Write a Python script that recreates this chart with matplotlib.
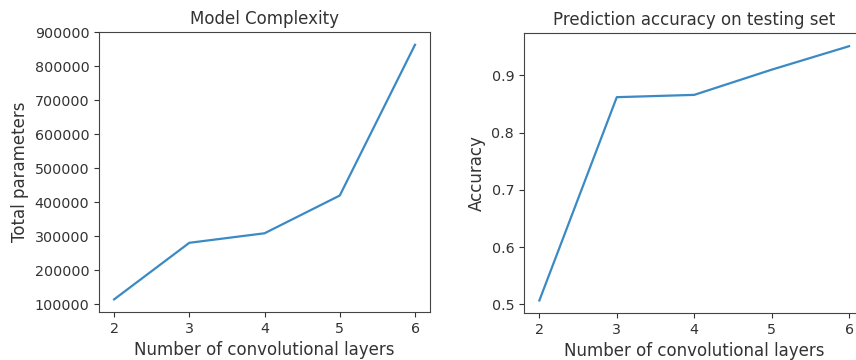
import numpy as np
import matplotlib
matplotlib.use("Agg")
import matplotlib.pyplot as plt

layers = [2, 3, 4, 5, 6]
total_params = [114700, 281000, 309000, 420000, 863000]
accuracy = [0.507, 0.862, 0.866, 0.910, 0.951]

plt.rcParams['text.color'] = '#333333'
plt.rcParams['axes.labelcolor'] = '#333333'
plt.rcParams['xtick.color'] = '#333333'
plt.rcParams['ytick.color'] = '#333333'
plt.rcParams['axes.edgecolor'] = '#444444'

line_color = '#3b8ac4'

fig = plt.figure(figsize=(8.56, 3.6), dpi=100)
ax1 = fig.add_axes([0.1157, 0.133, 0.3867, 0.778])
ax2 = fig.add_axes([0.612, 0.130, 0.398, 0.777])

ax1.plot(layers, total_params, color=line_color, lw=1.6)
ax1.set_title("Model Complexity", fontsize=12)
ax1.set_xlabel("Number of convolutional layers", fontsize=12)
ax1.set_ylabel("Total parameters", fontsize=12)
ax1.set_xticks(layers)

ax2.plot(layers, accuracy, color=line_color, lw=1.6)
ax2.set_title("Prediction accuracy on testing set", fontsize=12)
ax2.set_xlabel("Number of convolutional layers", fontsize=12)
ax2.set_ylabel("Accuracy", fontsize=12)
ax2.set_xticks(layers)

for ax in (ax1, ax2):
    ax.tick_params(labelsize=10.3)

fig.savefig("out.png", dpi=100)
